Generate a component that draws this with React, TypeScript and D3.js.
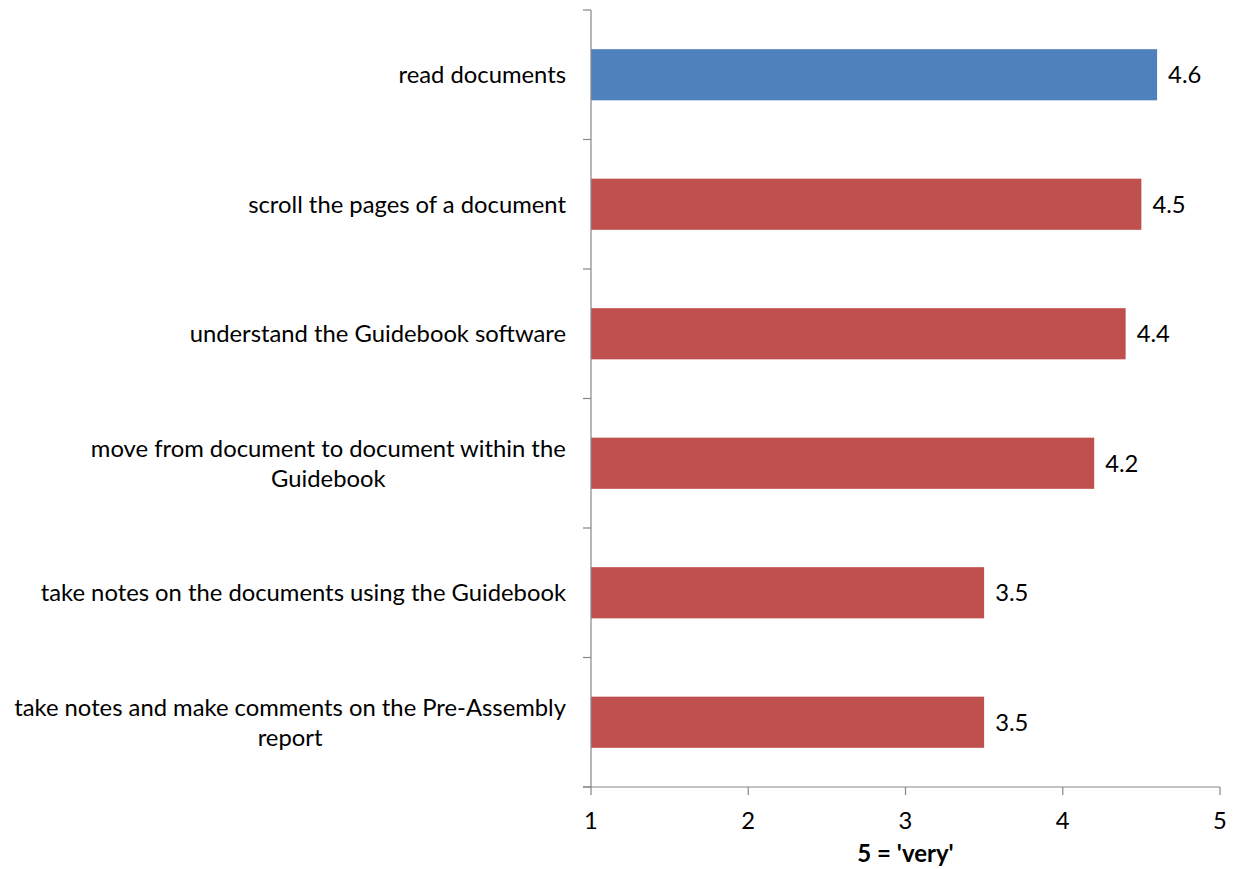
import * as d3 from 'd3';
import { useMemo } from 'react';

const categories = [
  'read documents',
  'scroll the pages of a document',
  'understand the Guidebook software',
  'move from document to document within the Guidebook',
  'take notes on the documents using the Guidebook',
  'take notes and make comments on the Pre-Assembly report',
];
const values = [4.6, 4.5, 4.4, 4.2, 3.5, 3.5];
const highlighted = ['read documents'];
const xTicks = [1, 2, 3, 4, 5];
const xTitle = "5 = 'very'";

const FONT = 'Lato, "Open Sans", sans-serif';
const FS = 23.8;

// measure text with a canvas so wrapping follows the real font
const ctx = typeof document !== 'undefined' ? document.createElement('canvas').getContext('2d') : null;
function measure(s: string, weight = 'normal') {
  if (!ctx) return s.length * 10;
  ctx.font = `${weight} ${FS}px ${FONT}`;
  return ctx.measureText(s).width;
}
function wrap(label: string, maxW: number) {
  const words = label.split(' ');
  const lines: string[] = [];
  let cur = '';
  words.forEach((w) => {
    const t = cur ? cur + ' ' + w : w;
    if (measure(t) > maxW && cur) {
      lines.push(cur);
      cur = w;
    } else cur = t;
  });
  if (cur) lines.push(cur);
  return lines;
}

export default function App() {
  const width = 1238;
  const height = 869;
  const left = 591;
  const right = 1220;
  const top = 10;
  const bottom = 787;

  const x = useMemo(() => d3.scaleLinear().domain([1, 5]).range([left, right]), []);
  const y = useMemo(
    () => d3.scaleBand<string>().domain(categories).range([top, bottom]).padding(0),
    []
  );
  const barH = y.bandwidth() * 0.395;
  const boundaries = d3.range(categories.length + 1).map((i) => top + i * y.step());

  return (
    <svg width={width} height={height} style={{ position: 'absolute', left: 0, top: 0 }} fontFamily={FONT}>
      <rect width={width} height={height} fill='white' />
      {categories.map((c, i) => {
        const cy = (y(c) as number) + y.bandwidth() / 2;
        const lines = wrap(c, 578);
        const maxW = Math.max(...lines.map((l) => measure(l)));
        const lx = 566;
        const lh = 30;
        const y0 = cy - ((lines.length - 1) * lh) / 2;
        return (
          <g key={c}>
            <rect
              x={x(1)}
              y={cy - barH / 2}
              width={x(values[i]) - x(1)}
              height={barH}
              fill={highlighted.includes(c) ? '#4F81BD' : '#C0504D'}
            />
            <text x={x(values[i]) + 11} y={cy} dy='0.35em' fontSize={FS} fill='#000'>
              {values[i].toFixed(1)}
            </text>
            {lines.map((l, j) => (
              <text
                key={j}
                x={lines.length > 1 ? lx - maxW / 2 : lx}
                y={y0 + j * lh}
                dy='0.35em'
                fontSize={FS}
                textAnchor={lines.length > 1 ? 'middle' : 'end'}
                fill='#000'
              >
                {l}
              </text>
            ))}
          </g>
        );
      })}
      {/* y axis */}
      <line x1={left} x2={left} y1={top} y2={bottom} stroke='#868686' strokeWidth={1.2} />
      {boundaries.map((b, i) => (
        <line key={i} x1={left - 8} x2={left} y1={b} y2={b} stroke='#868686' strokeWidth={1.2} />
      ))}
      {/* x axis */}
      <line x1={left - 8} x2={right} y1={bottom} y2={bottom} stroke='#868686' strokeWidth={1.2} />
      {xTicks.map((t) => (
        <g key={t}>
          <line x1={x(t)} x2={x(t)} y1={bottom} y2={bottom + 8} stroke='#868686' strokeWidth={1.2} />
          <text x={x(t)} y={bottom + 34} dy='0.35em' fontSize={FS} textAnchor='middle' fill='#000'>
            {t}
          </text>
        </g>
      ))}
      <text
        x={(left + right) / 2}
        y={bottom + 67}
        dy='0.35em'
        fontSize={24}
        fontWeight='bold'
        textAnchor='middle'
        fill='#000'
      >
        {xTitle}
      </text>
    </svg>
  );
}
